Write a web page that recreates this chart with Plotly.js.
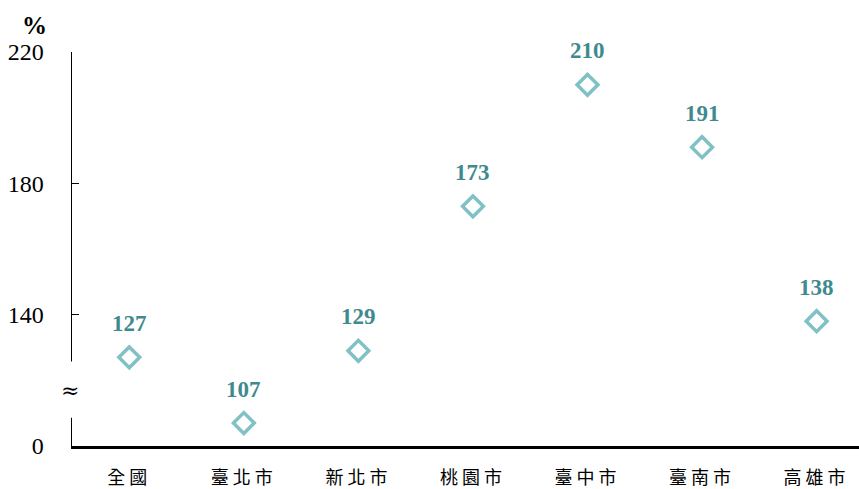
<!DOCTYPE html>
<html><head><meta charset="utf-8">
<script src="https://cdn.plot.ly/plotly-3.0.1.min.js"></script>
<style>body{margin:0;background:#fff}#c{width:859px;height:489px}
.xtick text{letter-spacing:4px}</style>
</head><body><div id="c"></div>
<script>
const categories = ["全國","臺北市","新北市","桃園市","臺中市","臺南市","高雄市"];
const values = [127,107,129,173,210,191,138];
const tickVals = [100,140,180,220];
const tickText = ["0","140","180","220"];
const serif = 'Liberation Serif, Times New Roman, serif';

const annotations = categories.map((c,i)=>({
  x:c, y:values[i], xref:'x', yref:'y', text:'<b>'+values[i]+'</b>', showarrow:false,
  yshift:34, font:{family:serif, size:23, color:'#3f8a8e'}
}));
annotations.push({xref:'paper', yref:'paper', x:-0.048, y:1.0, yshift:27, xanchor:'center', yanchor:'middle', text:'<b>%</b>', showarrow:false,
  font:{family:serif, size:25, color:'#000'}});
annotations.push({xref:'paper', yref:'y', x:0, xshift:-2, y:117, xanchor:'center', yanchor:'middle', text:'≈', showarrow:false,
  font:{family:'DejaVu Serif', size:22, color:'#000'}});

Plotly.newPlot('c',[{
  type:'scatter', mode:'markers', x:categories, y:values,
  marker:{symbol:'diamond-open', size:16, color:'#7fc1c4', line:{width:3.5, color:'#7fc1c4'}},
  cliponaxis:false, hoverinfo:'none'
}],{
  width:859, height:489, margin:{l:72,r:0,t:52,b:43},
  paper_bgcolor:'#fff', plot_bgcolor:'#fff', showlegend:false,
  xaxis:{type:'category', range:[-0.5,6.37], showline:true, linecolor:'#000', linewidth:2.5,
    ticks:'', showgrid:false, zeroline:false, ticklabelstandoff:14,
    tickfont:{family:'Noto Sans CJK TC', size:18, color:'#000'}},
  yaxis:{range:[100,220], tickvals:tickVals, ticktext:tickText, showline:true, linecolor:'#000', linewidth:1.5,
    ticks:'inside', ticklen:7, tickwidth:1.5, tickcolor:'#000', showgrid:false, zeroline:false,
    ticklabelstandoff:22, tickfont:{family:serif, size:24, color:'#000'}},
  shapes:[{type:'rect', xref:'paper', yref:'y', x0:-0.01, x1:0.012, y0:108.6, y1:125.7,
    fillcolor:'#fff', line:{width:0}, layer:'above'}],
  annotations:annotations
},{displayModeBar:false, staticPlot:true});
</script></body></html>
